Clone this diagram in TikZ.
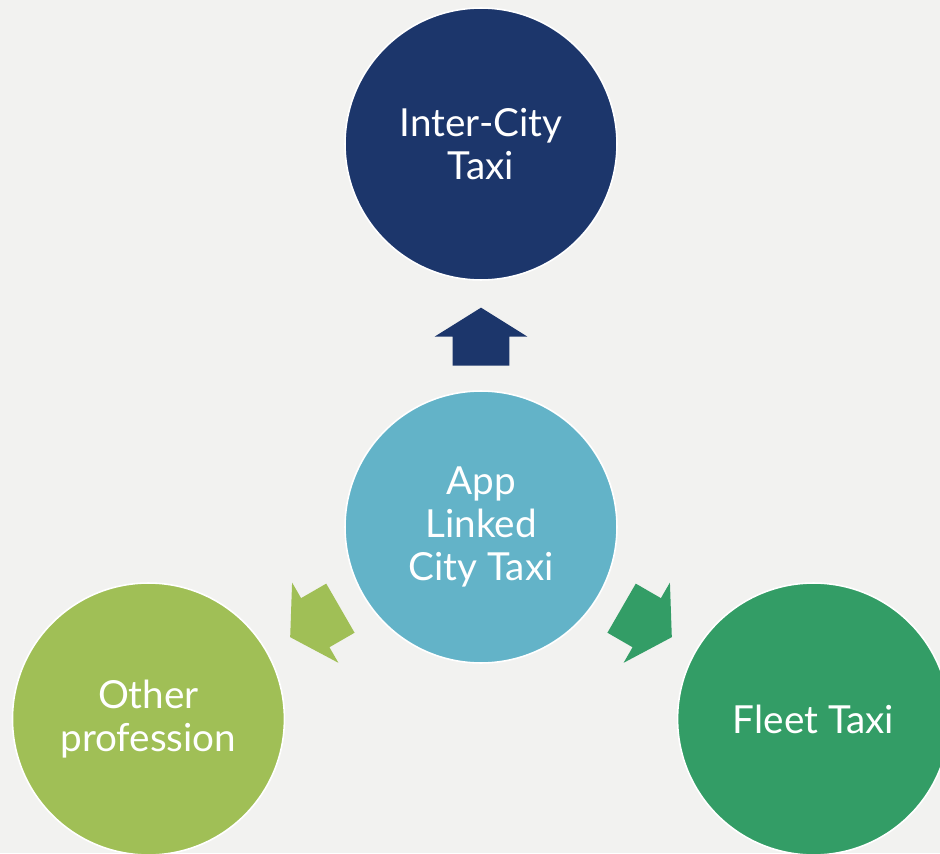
\documentclass[tikz,border=0pt]{standalone}
\usepackage{fontspec}
\setmainfont{Lato}
\usepackage{tikz}
\usetikzlibrary{shapes.arrows,calc}
\definecolor{pagegray}{HTML}{F2F2F0}
\definecolor{navy}{HTML}{1C366B}
\definecolor{skyblue}{HTML}{63B3C8}
\definecolor{leafgreen}{HTML}{A0BF56}
\definecolor{seagreen}{HTML}{339D66}
\tikzset{
  taxicircle/.style={circle,draw=white,line width=0.9pt,minimum size=5.44cm,
    inner sep=0pt,align=center,text=white,font=\fontsize{22}{24.5}\selectfont},
  blockarrow/.style={single arrow,draw=none,minimum height=1.16cm,
    inner xsep=0pt,inner ysep=0.56cm,single arrow head extend=0.36cm,
    single arrow tip angle=116,anchor=tail}
}
\begin{document}
\begin{tikzpicture}[x=0.02cm,y=0.02cm]
  % page background, 940 x 853 units
  \fill[pagegray] (0,0) rectangle (940,853);
  \useasboundingbox (0,0) rectangle (940,853);
  \clip (0,0) rectangle (940,853);

  % centre circle and the three around it
  \node[taxicircle,fill=skyblue] (app) at (481,326) {App\\Linked\\City Taxi};
  \node[taxicircle,fill=navy] (intercity) at ($(app)+(90:383)$) {Inter-City\\Taxi};
  \node[taxicircle,fill=leafgreen] (other) at ($(app)+(210:384)$) {Other\\profession};
  \node[taxicircle,fill=seagreen] (fleet) at ($(app)+(330:384)$) {Fleet Taxi};

  % block arrows pointing outwards
  \node[blockarrow,fill=navy,rotate=90] (toIntercity) at ($(app)+(90:161)$) {};
  \node[blockarrow,fill=leafgreen,rotate=210] (toOther) at ($(app)+(210:162)$) {};
  \node[blockarrow,fill=seagreen,rotate=330] (toFleet) at ($(app)+(330:162)$) {};
\end{tikzpicture}
\end{document}
